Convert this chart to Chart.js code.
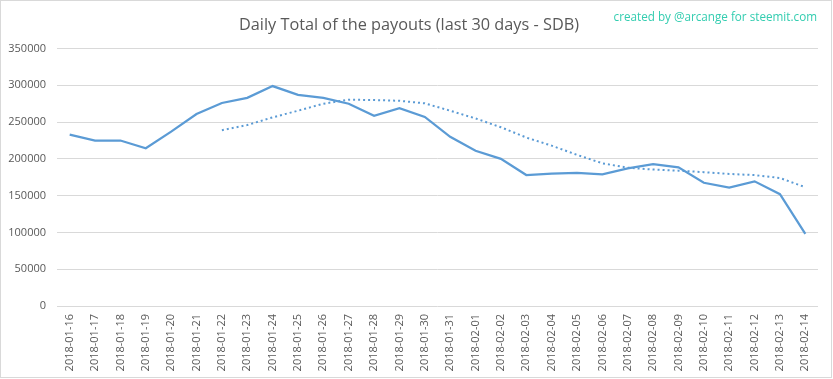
<!DOCTYPE html>
<html>
<head>
<meta charset="utf-8">
<script src="https://cdn.jsdelivr.net/npm/chart.js@4.4.1/dist/chart.umd.min.js"></script>
<style>
  html, body { margin: 0; padding: 0; background: #ffffff; }
  #wrap { position: relative; width: 833px; height: 379px; }
  #credit { position: absolute; right: 16px; top: 8px; font-family: "Open Sans", sans-serif; font-size: 11.7px; color: #33CDB0; white-space: nowrap; }
</style>
</head>
<body>
<div id="wrap">
  <canvas id="c" width="833" height="379"></canvas>
  <div id="credit">created by @arcange for steemit.com</div>
</div>
<script>
const titleText = "Daily Total of the payouts (last 30 days - SDB)";
const dates = ["2018-01-16","2018-01-17","2018-01-18","2018-01-19","2018-01-20","2018-01-21","2018-01-22","2018-01-23","2018-01-24","2018-01-25","2018-01-26","2018-01-27","2018-01-28","2018-01-29","2018-01-30","2018-01-31","2018-02-01","2018-02-02","2018-02-03","2018-02-04","2018-02-05","2018-02-06","2018-02-07","2018-02-08","2018-02-09","2018-02-10","2018-02-11","2018-02-12","2018-02-13","2018-02-14"];
const payouts = [233000,225000,225000,214500,237000,261000,276000,283000,299000,287000,283000,275000,258500,269000,257000,230000,211000,200000,178000,180000,181000,179000,187000,193000,188500,167500,161000,169500,152000,98000];
const trend = [null,null,null,null,null,null,239000,246000,256500,265500,275000,280500,280000,279000,275500,265500,255000,243000,229000,218000,205500,194000,188000,185500,184000,182000,179500,178000,174000,161500];
const yTicks = [0,50000,100000,150000,200000,250000,300000,350000];

const borderPlugin = {
  id: 'frame',
  beforeDraw(chart) {
    const ctx = chart.ctx;
    ctx.save();
    ctx.fillStyle = '#ffffff';
    ctx.fillRect(0, 0, chart.width, chart.height);
    ctx.strokeStyle = '#d9d9d9';
    ctx.lineWidth = 1;
    ctx.strokeRect(0.5, 0.5, chart.width - 2, chart.height - 2);
    ctx.restore();
  }
};

new Chart(document.getElementById('c'), {
  type: 'line',
  data: {
    labels: dates,
    datasets: [
      {
        label: 'Daily Total',
        data: payouts,
        borderColor: '#5B9BD5',
        borderWidth: 2.25,
        pointRadius: 0,
        tension: 0,
        fill: false
      },
      {
        label: '7 per. Mov. Avg.',
        data: trend,
        borderColor: '#5B9BD5',
        borderWidth: 2,
        borderDash: [2, 3],
        pointRadius: 0,
        tension: 0,
        fill: false,
        spanGaps: false
      }
    ]
  },
  options: {
    responsive: false,
    animation: false,
    devicePixelRatio: 1,
    layout: { padding: { left: 0, right: 15, top: 0, bottom: 0 } },
    plugins: {
      legend: { display: false },
      tooltip: { enabled: false },
      title: {
        display: true,
        text: titleText,
        color: '#595959',
        font: { family: '"Open Sans", sans-serif', size: 16.3, weight: 'normal' },
        padding: { top: 16, bottom: 13 }
      }
    },
    scales: {
      x: {
        offset: true,
        grid: { display: false, drawTicks: false },
        border: { display: false },
        ticks: {
          color: '#595959',
          font: { family: '"Open Sans", sans-serif', size: 11 },
          maxRotation: 90,
          minRotation: 90,
          autoSkip: false,
          padding: 8
        },
        afterFit(s) { s.height = 73; }
      },
      y: {
        min: 0,
        max: 350000,
        afterBuildTicks(s) { s.ticks = yTicks.map(v => ({ value: v })); },
        grid: { color: '#d9d9d9', lineWidth: 1, drawTicks: false },
        border: { display: false },
        ticks: {
          color: '#595959',
          font: { family: '"Open Sans", sans-serif', size: 11 },
          padding: 11,
          callback: (v) => String(v)
        },
        afterFit(s) { s.width = 57; }
      }
    }
  },
  plugins: [borderPlugin]
});
</script>
</body>
</html>
